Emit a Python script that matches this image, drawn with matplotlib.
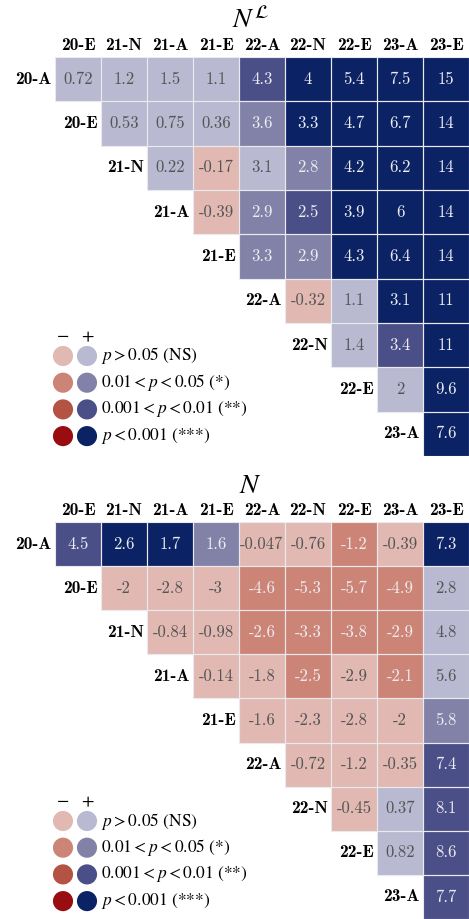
import matplotlib.pyplot as plt
import numpy as np
from matplotlib.colors import ListedColormap, BoundaryNorm

plt.rcParams['mathtext.fontset'] = 'stix'

rows = ['20-A', '20-E', '21-N', '21-A', '21-E', '22-A', '22-N', '22-E', '23-A']
cols = ['20-E', '21-N', '21-A', '21-E', '22-A', '22-N', '22-E', '23-A', '23-E']

# upper triangle, row i starts at column i
nl_vals = [
    [0.72, 1.2, 1.5, 1.1, 4.3, 4, 5.4, 7.5, 15],
    [0.53, 0.75, 0.36, 3.6, 3.3, 4.7, 6.7, 14],
    [0.22, -0.17, 3.1, 2.8, 4.2, 6.2, 14],
    [-0.39, 2.9, 2.5, 3.9, 6, 14],
    [3.3, 2.9, 4.3, 6.4, 14],
    [-0.32, 1.1, 3.1, 11],
    [1.4, 3.4, 11],
    [2, 9.6],
    [7.6],
]
# 0 = NS, 1 = *, 2 = **, 3 = ***
nl_sig = [
    [0, 0, 0, 0, 2, 3, 3, 3, 3],
    [0, 0, 0, 1, 3, 3, 3, 3],
    [0, 0, 0, 1, 3, 3, 3],
    [0, 1, 2, 3, 3, 3],
    [1, 1, 3, 3, 3],
    [0, 0, 3, 3],
    [0, 2, 3],
    [0, 3],
    [3],
]

n_vals = [
    [4.5, 2.6, 1.7, 1.6, -0.047, -0.76, -1.2, -0.39, 7.3],
    [-2, -2.8, -3, -4.6, -5.3, -5.7, -4.9, 2.8],
    [-0.84, -0.98, -2.6, -3.3, -3.8, -2.9, 4.8],
    [-0.14, -1.8, -2.5, -2.9, -2.1, 5.6],
    [-1.6, -2.3, -2.8, -2, 5.8],
    [-0.72, -1.2, -0.35, 7.4],
    [-0.45, 0.37, 8.1],
    [0.82, 8.6],
    [7.7],
]
n_sig = [
    [2, 3, 3, 1, 0, 0, 1, 0, 3],
    [0, 0, 0, 1, 1, 1, 1, 0],
    [0, 0, 1, 1, 1, 1, 0],
    [0, 0, 1, 0, 1, 0],
    [0, 0, 0, 0, 1],
    [0, 0, 0, 2],
    [0, 0, 2],
    [0, 2],
    [2],
]

neg_colors = ['#e1b9b2', '#cc8476', '#b45244', '#990c10']
pos_colors = ['#b9b9d1', '#8282a9', '#4b4f88', '#0b2365']
legend_labels = [r'$p>0.05$ (NS)', r'$0.01<p<0.05$ (*)',
                 r'$0.001<p<0.01$ (**)', r'$p<0.001$ (***)']

cmap = ListedColormap(neg_colors + pos_colors)
cmap.set_bad((1, 1, 1, 0))
norm = BoundaryNorm(np.arange(-0.5, 8.5, 1), cmap.N)

W, H = 469, 919
fig = plt.figure(figsize=(W / 100, H / 100), dpi=100)


def draw_panel(ax, vals, sig, title, top_px):
    n = len(cols)
    code = np.full((n, n), np.nan)
    for i, (rv, rs) in enumerate(zip(vals, sig)):
        for k, (v, s) in enumerate(zip(rv, rs)):
            code[i, i + k] = s + (4 if v > 0 else 0)
    code = np.ma.masked_invalid(code)
    ax.pcolormesh(np.arange(n + 1) - 0.5, np.arange(n + 1) - 0.5, code,
                  cmap=cmap, norm=norm, edgecolors='none')
    # thin light grid between drawn cells
    for i, rv in enumerate(vals):
        for k in range(len(rv)):
            j = i + k
            ax.add_patch(plt.Rectangle((j - 0.5, i - 0.5), 1, 1, fill=False,
                                       ec='#e9e9ee', lw=0.8))
    for i, (rv, rs) in enumerate(zip(vals, sig)):
        for k, (v, s) in enumerate(zip(rv, rs)):
            ax.text(i + k, i, format(v, '.2g'), ha='center', va='center',
                    family='cmr10', fontsize=12,
                    color='#555555' if s == 0 else '#ececf0')
        ax.text(i - 0.57, i, rows[i], ha='right', va='center',
                family='cmb10', fontsize=12.5)
    ax.set_xlim(-0.5, n - 0.5)
    ax.set_ylim(n - 0.5, -0.5)
    ax.xaxis.tick_top()
    ax.set_xticks(range(n))
    ax.set_xticklabels(cols, family='cmb10', fontsize=12.5)
    ax.tick_params(length=0, pad=3)
    ax.set_yticks([])
    ax.patch.set_visible(False)
    for sp in ax.spines.values():
        sp.set_visible(False)
    fig.text(250 / W, 1 - (top_px - 29) / H, title, ha='center',
             va='baseline', fontsize=20)


ax1 = fig.add_axes([55 / W, 1 - 456 / H, 414 / W, 399 / H])
draw_panel(ax1, nl_vals, nl_sig, r'$N^{\mathcal{L}}$', 57)
ax2 = fig.add_axes([55 / W, 0, 414 / W, 397 / H])
draw_panel(ax2, n_vals, n_sig, r'$N$', 522)

# legend overlay in pixel coordinates
lax = fig.add_axes([0, 0, 1, 1], zorder=5)
lax.set_xlim(0, W)
lax.set_ylim(H, 0)
lax.axis('off')
for y0 in [356, 821]:
    lax.text(63, y0 - 19, '\u2212', ha='center', va='center', fontsize=13,
             family='STIXGeneral')
    lax.text(87, y0 - 19, '+', ha='center', va='center', fontsize=13,
             family='STIXGeneral')
    ys = y0 + np.arange(4) * 26.7
    lax.scatter(np.full(4, 63), ys, s=210, c=neg_colors, lw=0)
    lax.scatter(np.full(4, 87), ys, s=210, c=pos_colors, lw=0)
    for yy, lab in zip(ys, legend_labels):
        lax.text(101, yy, lab, ha='left', va='center', fontsize=12.5,
                 family='STIXGeneral')

fig.savefig('out.png', dpi=100)
